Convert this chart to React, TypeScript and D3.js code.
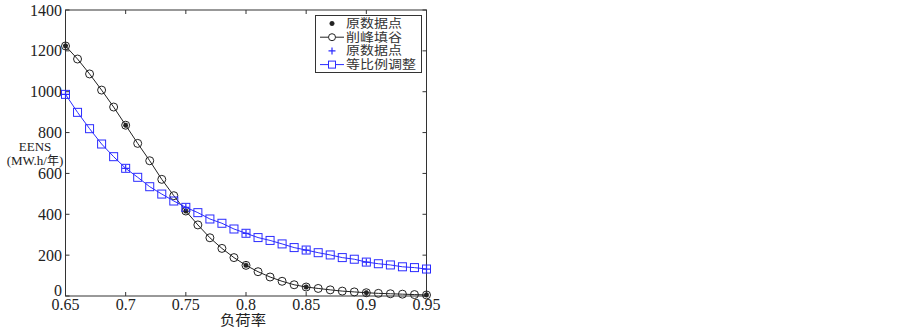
import React, { useEffect, useRef } from 'react';
import * as d3 from 'd3';

// 负荷率
const loadRate = [0.65, 0.66, 0.67, 0.68, 0.69, 0.70, 0.71, 0.72, 0.73, 0.74, 0.75, 0.76, 0.77, 0.78, 0.79, 0.80,
  0.81, 0.82, 0.83, 0.84, 0.85, 0.86, 0.87, 0.88, 0.89, 0.90, 0.91, 0.92, 0.93, 0.94, 0.95];
// 削峰填谷
const peakShave = [1224, 1160, 1087, 1008, 925, 836, 747, 662, 571, 491, 416, 348, 285, 233, 188, 150,
  119, 93, 72, 55, 44, 37, 30, 24, 20, 16, 13, 11, 9, 7, 5];
// 等比例调整
const proportional = [987, 899, 819, 744, 682, 625, 581, 535, 499, 465, 434, 408, 377, 356, 328, 307,
  286, 272, 255, 237, 225, 212, 201, 188, 180, 166, 158, 152, 143, 139, 132];
// 原数据点
const origX = [0.65, 0.70, 0.75, 0.80, 0.85, 0.90, 0.95];
const xTicks = [0.65, 0.7, 0.75, 0.8, 0.85, 0.9, 0.95];
const yTicks = [0, 200, 400, 600, 800, 1000, 1200, 1400];
const legendLabels = ['原数据点', '削峰填谷', '原数据点', '等比例调整'];

const BLUE = '#2b2bff';
const BLACK = '#222';

const App: React.FC = () => {
  const svgRef = useRef<SVGSVGElement | null>(null);

  useEffect(() => {
    if (!svgRef.current) return;
    const svg = d3.select(svgRef.current);
    svg.selectAll('*').remove();

    const margin = { top: 10, left: 65.5, right: 903 - 426.5, bottom: 328 - 296 };
    const x = d3.scaleLinear().domain([0.65, 0.95]).range([margin.left, 903 - margin.right]);
    const y = d3.scaleLinear().domain([0, 1400]).range([328 - margin.bottom, margin.top]);
    const [x0, x1] = x.range();
    const [y0, y1] = y.range();
    const serif = '"Liberation Serif", "Times New Roman", serif';
    const cjk = '"Noto Sans CJK SC", sans-serif';

    // frame
    svg.append('rect')
      .attr('x', x0).attr('y', y1).attr('width', x1 - x0).attr('height', y0 - y1)
      .attr('fill', 'none').attr('stroke', '#333').attr('stroke-width', 1);

    // ticks (inward, all four sides)
    const tl = 4;
    xTicks.forEach(t => {
      svg.append('line').attr('x1', x(t)).attr('x2', x(t)).attr('y1', y0).attr('y2', y0 - tl).attr('stroke', '#333');
      svg.append('line').attr('x1', x(t)).attr('x2', x(t)).attr('y1', y1).attr('y2', y1 + tl).attr('stroke', '#333');
      svg.append('text').attr('x', x(t)).attr('y', 310).attr('text-anchor', 'middle')
        .attr('font-family', serif).attr('font-size', 16).attr('fill', '#222').text(String(t));
    });
    yTicks.forEach(t => {
      svg.append('line').attr('x1', x0).attr('x2', x0 + tl).attr('y1', y(t)).attr('y2', y(t)).attr('stroke', '#333');
      svg.append('line').attr('x1', x1).attr('x2', x1 - tl).attr('y1', y(t)).attr('y2', y(t)).attr('stroke', '#333');
      svg.append('text').attr('x', 62).attr('y', t === 0 ? y(t) : y(t) + 5.5).attr('text-anchor', 'end')
        .attr('font-family', serif).attr('font-size', 16).attr('fill', '#222').text(String(t));
    });

    // axis labels
    svg.append('text').attr('x', 243).attr('y', 325).attr('text-anchor', 'middle')
      .attr('font-family', cjk).attr('font-size', 14).attr('textLength', 46).attr('lengthAdjust', 'spacingAndGlyphs')
      .attr('fill', '#222').text('负荷率');
    svg.append('text').attr('x', 35).attr('y', 151).attr('text-anchor', 'middle')
      .attr('font-family', serif).attr('font-size', 13).attr('fill', '#222').text('EENS');
    const yl = svg.append('text').attr('x', 35).attr('y', 165).attr('text-anchor', 'middle')
      .attr('font-size', 13).attr('fill', '#222');
    yl.append('tspan').attr('font-family', serif).text('(MW.h/');
    yl.append('tspan').attr('font-family', cjk).attr('font-size', 12).text('年');
    yl.append('tspan').attr('font-family', serif).text(')');

    const line = d3.line<number>().x((_, i) => x(loadRate[i]));

    // 削峰填谷
    svg.append('path').datum(peakShave)
      .attr('d', line.y(d => y(d)))
      .attr('fill', 'none').attr('stroke', BLACK).attr('stroke-width', 1);
    svg.append('g').selectAll('circle').data(peakShave).join('circle')
      .attr('cx', (_, i) => x(loadRate[i])).attr('cy', d => y(d)).attr('r', 4)
      .attr('fill', 'none').attr('stroke', BLACK).attr('stroke-width', 1);

    // 等比例调整
    svg.append('path').datum(proportional)
      .attr('d', line.y(d => y(d)))
      .attr('fill', 'none').attr('stroke', BLUE).attr('stroke-width', 1);
    svg.append('g').selectAll('rect').data(proportional).join('rect')
      .attr('x', (_, i) => x(loadRate[i]) - 4).attr('y', d => y(d) - 4)
      .attr('width', 8).attr('height', 8)
      .attr('fill', 'none').attr('stroke', BLUE).attr('stroke-width', 1);

    const valAt = (arr: number[], t: number) => arr[loadRate.findIndex(v => Math.abs(v - t) < 1e-6)];
    const crossPath = d3.symbol(d3.symbolCross, 14)() as string;

    // 原数据点 (black stars)
    origX.forEach(t => {
      const cx = x(t), cy = y(valAt(peakShave, t));
      svg.append('path').attr('d', crossPath)
        .attr('transform', `translate(${cx},${cy}) rotate(45)`).attr('fill', BLACK);
      svg.append('path').attr('d', crossPath)
        .attr('transform', `translate(${cx},${cy})`).attr('fill', BLACK);
    });

    // 原数据点 (blue plus)
    origX.forEach(t => {
      const cx = x(t), cy = y(valAt(proportional, t));
      svg.append('path').attr('d', `M${cx - 3.5},${cy}H${cx + 3.5}M${cx},${cy - 3.5}V${cy + 3.5}`)
        .attr('stroke', BLUE).attr('stroke-width', 1.2);
    });

    // legend
    const lg = svg.append('g');
    lg.append('rect').attr('x', 315.5).attr('y', 15.5).attr('width', 106).attr('height', 57)
      .attr('fill', '#fff').attr('stroke', '#333');
    legendLabels.forEach((lab, i) => {
      const cy = 23.5 + i * 13.7;
      const mx = 332;
      if (i === 0) {
        lg.append('path').attr('d', crossPath)
          .attr('transform', `translate(${mx},${cy}) rotate(45)`).attr('fill', BLACK);
        lg.append('path').attr('d', crossPath)
          .attr('transform', `translate(${mx},${cy})`).attr('fill', BLACK);
      } else if (i === 1) {
        lg.append('line').attr('x1', 320).attr('x2', 344).attr('y1', cy).attr('y2', cy).attr('stroke', BLACK);
        lg.append('circle').attr('cx', mx).attr('cy', cy).attr('r', 3.5).attr('fill', '#fff').attr('stroke', BLACK);
      } else if (i === 2) {
        lg.append('path').attr('d', `M${mx - 3.5},${cy}H${mx + 3.5}M${mx},${cy - 3.5}V${cy + 3.5}`)
          .attr('stroke', BLUE).attr('stroke-width', 1.2);
      } else {
        lg.append('line').attr('x1', 320).attr('x2', 344).attr('y1', cy).attr('y2', cy).attr('stroke', BLUE);
        lg.append('rect').attr('x', mx - 3.5).attr('y', cy - 3.5).attr('width', 7).attr('height', 7)
          .attr('fill', '#fff').attr('stroke', BLUE);
      }
      lg.append('text').attr('x', 346).attr('y', cy + 4.3).attr('font-family', cjk).attr('font-size', 12)
        .attr('textLength', i === 3 ? 70 : 56).attr('lengthAdjust', 'spacingAndGlyphs')
        .attr('fill', '#333').text(lab);
    });
  }, []);

  return (
    <svg ref={svgRef} width={903} height={328}
      style={{ position: 'absolute', left: 0, top: 0, background: '#fff' }} />
  );
};

export default App;
